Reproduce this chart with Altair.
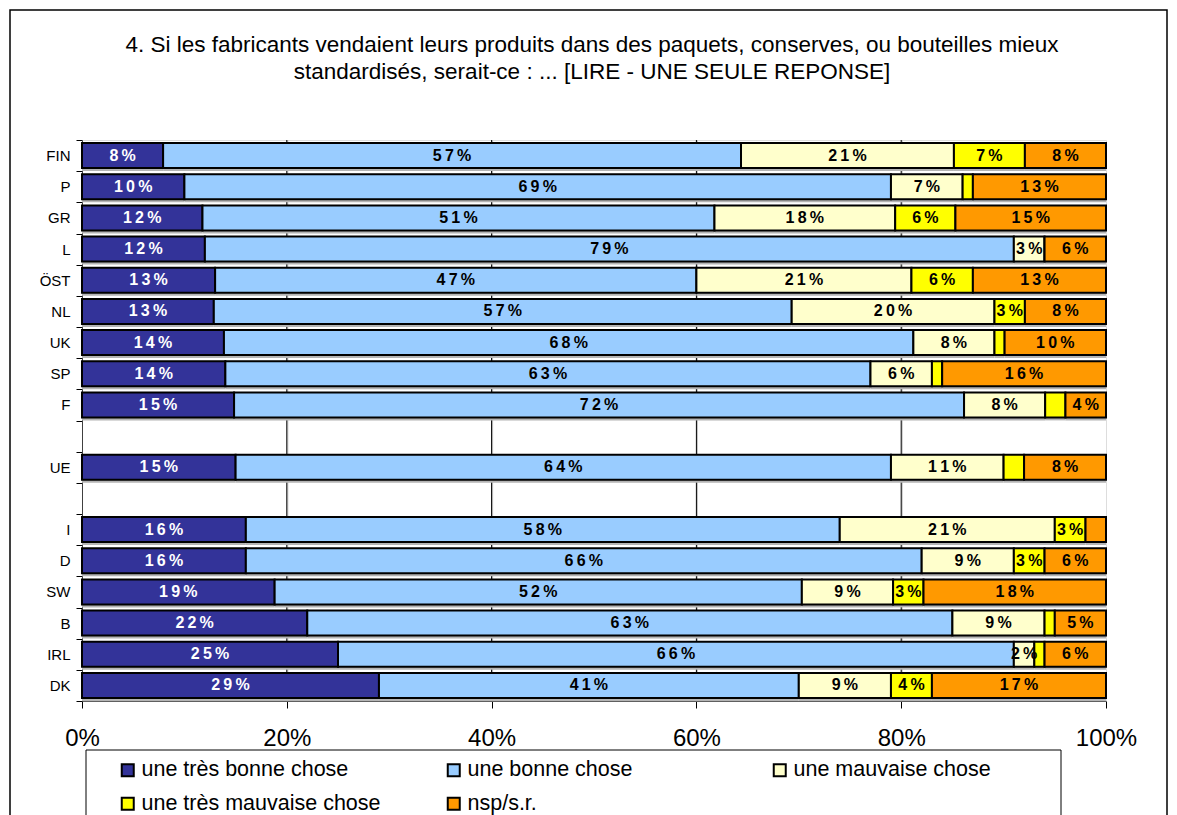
import altair as alt
import pandas as pd

rows = ["FIN", "P", "GR", "L", "ÖST", "NL", "UK", "SP", "F", " ", "UE", "  ",
        "I", "D", "SW", "B", "IRL", "DK"]
countries = ["FIN", "P", "GR", "L", "ÖST", "NL", "UK", "SP", "F", "UE",
             "I", "D", "SW", "B", "IRL", "DK"]
tres_bonne = [8, 10, 12, 12, 13, 13, 14, 14, 15, 15, 16, 16, 19, 22, 25, 29]
bonne = [57, 69, 51, 79, 47, 57, 68, 63, 72, 64, 58, 66, 52, 63, 66, 41]
mauvaise = [21, 7, 18, 3, 21, 20, 8, 6, 8, 11, 21, 9, 9, 9, 2, 9]
tres_mauvaise = [7, 1, 6, 0, 6, 3, 1, 1, 2, 2, 3, 3, 3, 1, 1, 4]
nsp = [8, 13, 15, 6, 13, 8, 10, 16, 4, 8, 2, 6, 18, 5, 6, 17]

categories = ["une très bonne chose", "une bonne chose", "une mauvaise chose",
              "une très mauvaise chose", "nsp/s.r."]
colors = ["#333399", "#99CCFF", "#FFFFCC", "#FFFF00", "#FF9900"]
x_ticks = [0, 0.2, 0.4, 0.6, 0.8, 1.0]
grid_vals = [0.2, 0.4, 0.6, 0.8]

title_lines = [
    "4. Si les fabricants vendaient leurs produits dans des paquets, conserves, ou bouteilles mieux",
    "standardisés, serait-ce : ... [LIRE - UNE SEULE REPONSE]",
]

series = [tres_bonne, bonne, mauvaise, tres_mauvaise, nsp]
recs = []
for i, c in enumerate(countries):
    for k, cat in enumerate(categories):
        v = series[k][i]
        show = v >= 3 or (k == 2 and v >= 2)
        lab = "\u2009".join(list(f"{v}%")) if show else ""
        recs.append({"row": c, "cat": cat, "order": k, "value": v,
                     "label": lab, "tcolor": "white" if k == 0 else "black"})
df = pd.DataFrame(recs)

FONT = "Liberation Sans"
W, H = 1024, 561

base = alt.Chart(df).transform_joinaggregate(
    total="sum(value)", groupby=["row"]
).transform_window(
    cum="sum(value)", groupby=["row"], sort=[alt.SortField("order")], frame=[None, 0]
).transform_calculate(
    x0="(datum.cum - datum.value) / datum.total",
    x1="datum.cum / datum.total",
    mid="(datum.cum - datum.value / 2) / datum.total",
)

yenc = alt.Y("row:N", scale=alt.Scale(domain=rows, paddingInner=0, paddingOuter=0),
             axis=alt.Axis(title=None, labelFontSize=15, labelFont=FONT, labelColor="black",
                           tickBand="extent", tickSize=6, tickColor="black",
                           domainColor="#404040", labelPadding=6))
xscale = alt.Scale(domain=[0, 1], nice=False)
xaxis = alt.Axis(title=None, values=x_ticks, format=".0%", grid=False, labelFlush=False,
                 labelOverlap=False, labelFontSize=24, labelFont=FONT, labelColor="black",
                 tickSize=7, tickColor="black", domainColor="#606060", labelPadding=18)

grid_df = pd.DataFrame({"g": grid_vals})
grid_shadow = alt.Chart(grid_df).mark_rule(color="#c0c0c0", xOffset=1).encode(
    x=alt.X("g:Q", scale=xscale, axis=xaxis), y=alt.value(0), y2=alt.value(H))
grid = alt.Chart(grid_df).mark_rule(color="black", strokeWidth=1).encode(
    x=alt.X("g:Q", scale=xscale), y=alt.value(0), y2=alt.value(H))

shadow = base.mark_bar(color="#b4b4b4", yOffset=3, height={"band": 0.8}).encode(
    x=alt.X("x0:Q", scale=xscale, axis=xaxis), x2="x1:Q", y=yenc)

bars = base.mark_bar(stroke="black", strokeWidth=2, height={"band": 0.8}).encode(
    x=alt.X("x0:Q", scale=xscale, axis=xaxis), x2="x1:Q", y=yenc,
    color=alt.Color("cat:N", scale=alt.Scale(domain=categories, range=colors),
                    legend=alt.Legend(title=None, orient="none", legendX=35, legendY=619,
                                      direction="horizontal", columns=3, gridAlign="all",
                                      columnPadding=62, rowPadding=11, padding=0,
                                      symbolType="square", symbolSize=144,
                                      symbolStrokeColor="black", symbolStrokeWidth=2,
                                      labelFontSize=21.5, labelFont=FONT, labelColor="black",
                                      labelOffset=3, labelLimit=400)),
)

texts = base.mark_text(fontSize=16, fontWeight="bold", font=FONT, baseline="middle").encode(
    x=alt.X("mid:Q", scale=xscale), y=alt.Y("row:N", scale=alt.Scale(domain=rows)),
    text="label:N", color=alt.Color("tcolor:N", scale=None))

one = alt.Data(values=[{"a": 1}])
outer = alt.Chart(one).mark_rect(fillOpacity=0, stroke="black", strokeWidth=1.5).encode(
    x=alt.value(-72), x2=alt.value(1085), y=alt.value(-130), y2=alt.value(720))
legbox = alt.Chart(one).mark_rect(fillOpacity=0, stroke="black", strokeWidth=1).encode(
    x=alt.value(4), x2=alt.value(979), y=alt.value(610), y2=alt.value(720))
title = alt.Chart(one).mark_text(fontSize=22.5, font=FONT, color="black", align="center",
                                 baseline="middle", lineHeight=27, text=title_lines).encode(
    x=alt.value(510), y=alt.value(-95))

chart = alt.layer(outer, legbox, title, grid_shadow, grid, shadow, bars, texts).properties(
    width=W, height=H,
    autosize=alt.AutoSizeParams(type="none"),
    padding={"left": 74, "top": 132, "right": 63, "bottom": 114},
).configure_view(stroke="#808080", strokeWidth=1).configure(background="white")

chart.save("out.html", embed_options={"renderer": "svg", "actions": False})
